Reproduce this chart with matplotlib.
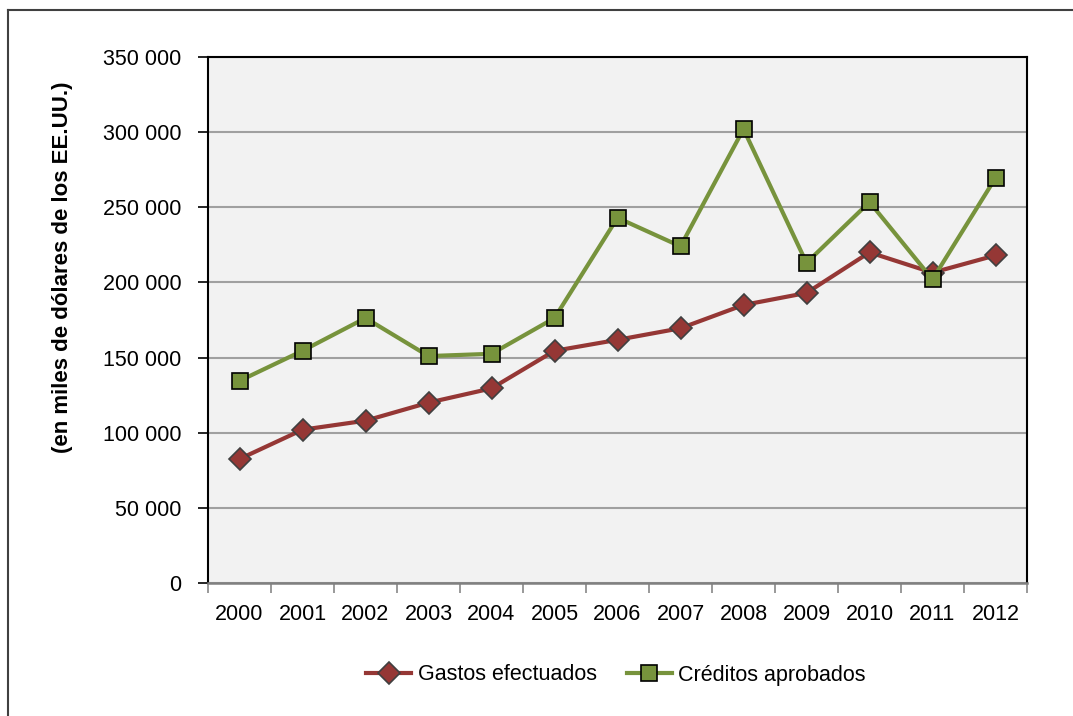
import matplotlib
matplotlib.use("Agg")
import matplotlib.pyplot as plt
from matplotlib.lines import Line2D
from matplotlib import font_manager

years = ["2000", "2001", "2002", "2003", "2004", "2005", "2006",
         "2007", "2008", "2009", "2010", "2011", "2012"]
gastos = [82500, 102000, 108000, 120000, 129500, 154500, 161800,
          169500, 185000, 193000, 220000, 206500, 218000]
creditos = [134500, 154500, 176300, 151000, 152500, 176300, 243000,
            224000, 302000, 213000, 253500, 202000, 269500]
yticks = [0, 50000, 100000, 150000, 200000, 250000, 300000, 350000]
ytick_labels = ["0", "50 000", "100 000", "150 000", "200 000", "250 000", "300 000", "350 000"]

names = {f.name for f in font_manager.fontManager.ttflist}
fam = "Liberation Sans Narrow" if "Liberation Sans Narrow" in names else "Liberation Sans"
plt.rcParams['font.family'] = [fam, 'DejaVu Sans']

fig = plt.figure(figsize=(10.73, 7.16), dpi=100)
ax = fig.add_axes([208/1073, 1-583/716, (1027-208)/1073, (583-57)/716])
ax.set_facecolor("#F2F2F2")

x = list(range(len(years)))
ax.plot(x, gastos, color="#953735", lw=3, marker="D", markersize=11,
        markerfacecolor="#953735", markeredgecolor="#404040", markeredgewidth=1.2,
        label="Gastos efectuados", zorder=3)
ax.plot(x, creditos, color="#77933C", lw=3, marker="s", markersize=11.5,
        markerfacecolor="#77933C", markeredgecolor="#000000", markeredgewidth=1.2,
        label="Créditos aprobados", zorder=4)

ax.set_xlim(-0.5, len(years) - 0.5)
ax.set_ylim(0, 350000)
ax.set_yticks(yticks)
ax.set_yticklabels(ytick_labels, fontsize=15.5)
ax.set_xticks(x)
ax.set_xticklabels(years, fontsize=15.5)
ax.tick_params(axis='x', length=0, pad=15)
ax.set_xticks([i - 0.5 for i in range(len(years) + 1)], minor=True)
ax.tick_params(axis='x', which='minor', length=7, color="#888888", width=1.2)
ax.tick_params(axis='y', length=7, width=1.2, color="#000000", pad=12)

ax.yaxis.grid(True, color="#A0A0A0", lw=1.5)
ax.set_axisbelow(True)
for s in ["left", "top", "right"]:
    ax.spines[s].set_color("#000000")
    ax.spines[s].set_linewidth(1.5)
ax.spines["bottom"].set_color("#808080")
ax.spines["bottom"].set_linewidth(1.8)

fig.text(63/1073, 1-267/716, "(en miles de dólares de los EE.UU.)", rotation=90,
         ha="center", va="center", fontsize=16, fontweight="bold")

leg = fig.legend(loc="center", bbox_to_anchor=(616/1073, 1-675/716), ncol=2,
                 frameon=False, fontsize=15.5, handlelength=2.1, columnspacing=1.4,
                 handletextpad=0.3)

fig.add_artist(Line2D([8/1073, 8/1073], [-0.05, 1-10/716], color="#404040", lw=1.5))
fig.add_artist(Line2D([8/1073, 1.05], [1-10/716, 1-10/716], color="#404040", lw=1.5))

fig.savefig("out.png", dpi=100)
